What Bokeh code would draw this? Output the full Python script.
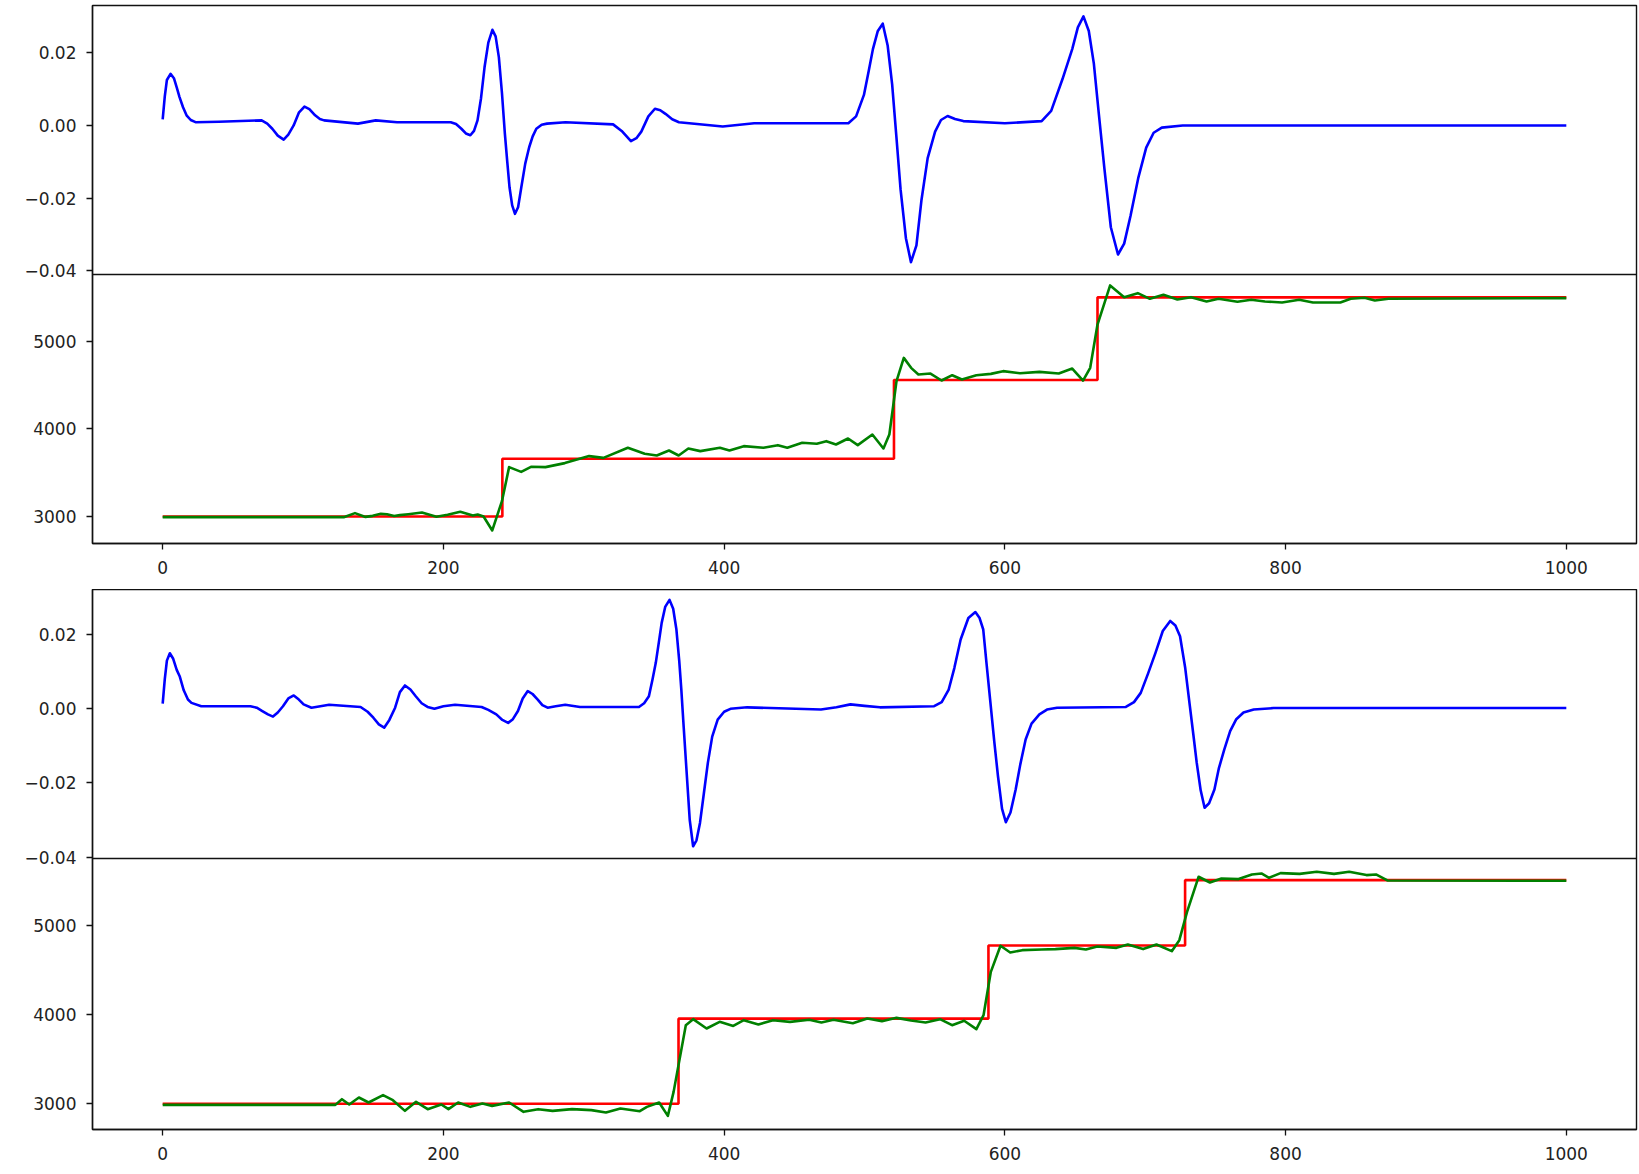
from bokeh.plotting import figure
from bokeh.layouts import column
from bokeh.models import FixedTicker, Range1d, CustomJSTickFormatter, Span
from bokeh.embed import file_html
from bokeh.resources import INLINE

# ---------------- data ----------------
x_ticks = [0, 200, 400, 600, 800, 1000]
deriv_ticks = [-0.04, -0.02, 0.0, 0.02]
level_ticks = [3000, 4000, 5000]

# pair 1 - blue (derivative)
blue1_x = [0, 1.5, 3, 5.6, 8, 10, 12, 14.5, 17, 20, 23.4, 40, 70.5, 74.5, 78.1, 82, 86.2, 89.5,
           93.3, 97, 101, 104.5, 108.6, 112, 115, 139.1, 151.8, 167, 205.2, 209, 212.8, 216,
           219.2, 221.8, 224.3, 226.8, 229.3, 232, 234.9, 237.2, 239.5, 241.7, 243.8, 245.5,
           247.1, 249, 251, 253.2, 255.5, 258.3, 261.1, 263.6, 266.2, 270, 273.8, 287, 320.9,
           327, 333.6, 337.5, 341, 346, 350.7, 354.5, 358.2, 363, 367.8, 399, 421.4, 488.5,
           494, 499.6, 503, 506, 509.5, 513, 516.5, 519.7, 522.7, 525.7, 529.5, 533.1, 537,
           540.6, 545, 550.3, 554.5, 559.2, 564.5, 570.4, 600, 626.2, 633, 641, 648, 652, 656,
           659.8, 663.4, 667, 670.9, 675.5, 680.6, 685, 689.5, 695, 700.7, 706, 711.8, 726.7,
           1000]
blue1_y = [0.0017, 0.008, 0.0125, 0.0142, 0.013, 0.0105, 0.0078, 0.005, 0.0028, 0.0015, 0.0009,
           0.0010, 0.0014, 0.0005, -0.0009, -0.0028, -0.0039, -0.0025, 0.0, 0.0035, 0.0052,
           0.0045, 0.0028, 0.0018, 0.0014, 0.0005, 0.0014, 0.0009, 0.0009, 0.0004, -0.0009,
           -0.0022, -0.0027, -0.0015, 0.0014, 0.0075, 0.016, 0.0228, 0.0263, 0.0245, 0.0188,
           0.009, -0.0023, -0.010, -0.017, -0.022, -0.0243, -0.0225, -0.017, -0.0105, -0.006,
           -0.003, -0.0009, 0.0002, 0.0005, 0.0009, 0.0003, -0.0015, -0.0043, -0.0035, -0.0017,
           0.0025, 0.0046, 0.0042, 0.0032, 0.0017, 0.0009, -0.0003, 0.0006, 0.0006, 0.0025,
           0.0084, 0.015, 0.021, 0.026, 0.028, 0.022, 0.0113, -0.003, -0.0176, -0.031, -0.0376,
           -0.033, -0.0205, -0.009, -0.0017, 0.0015, 0.0026, 0.0018, 0.0012, 0.0006, 0.0012,
           0.004, 0.0127, 0.021, 0.027, 0.030, 0.026, 0.017, 0.003, -0.0118, -0.028, -0.0355,
           -0.0325, -0.0249, -0.0145, -0.0061, -0.002, -0.0006, 0.0, 0.0]

# pair 1 - red (set-point steps)
red1_x = [0, 242, 521, 666, 1000]
red1_y = [3000, 3660, 4560, 5505, 5505]

# pair 1 - green (measured)
green1_x = [0, 129, 137, 144.5, 149.6, 155.4, 159.8, 164.9, 169, 175, 184.7, 195, 203, 212,
            221, 224.4, 228.6, 234.8, 241.7, 246.8, 255.4, 262.4, 272.7, 286.5, 303.8, 314,
            331.4, 343.4, 352, 360.7, 367.6, 374.5, 383, 397, 403.8, 414, 428, 438.3, 445,
            455.6, 466, 472.8, 479.7, 488.3, 495.2, 505.6, 513.5, 517.7, 522.8, 528, 533.2,
            538.4, 547, 554.9, 562.5, 569.4, 579.7, 590, 598.7, 610.8, 624.6, 638.4, 648,
            655.7, 660.8, 666, 675, 685, 694.7, 703.3, 713, 722.9, 732.6, 743.7, 752.2, 765.7,
            775.5, 785.3, 797.5, 809.7, 819.5, 839, 846.4, 856.2, 863.6, 873.3, 1000]
green1_y = [2992, 2992, 3038, 2995, 3007, 3030, 3026, 3005, 3015, 3026, 3046, 2996, 3020, 3053,
            3010, 3023, 3000, 2840, 3175, 3564, 3510, 3568, 3564, 3610, 3690, 3670, 3785,
            3716, 3697, 3754, 3697, 3777, 3747, 3785, 3754, 3804, 3785, 3815, 3785, 3842,
            3831, 3861, 3823, 3891, 3815, 3937, 3777, 3937, 4547, 4813, 4699, 4623, 4634,
            4554, 4615, 4566, 4615, 4630, 4661, 4638, 4653, 4634, 4691, 4554, 4699, 5194,
            5641, 5507, 5553, 5488, 5534, 5481, 5507, 5458, 5488, 5454, 5477, 5458, 5446,
            5477, 5446, 5446, 5488, 5500, 5469, 5488, 5496]

# pair 2 - blue (derivative)
blue2_x = [0, 1.5, 3, 5.1, 7.5, 10, 12.1, 15, 18, 20.5, 27.5, 62.5, 67, 71, 75, 78.6, 82, 85.7,
           89.5, 93.4, 97, 100.4, 106, 118.6, 141, 146, 150.1, 154, 157.8, 161.5, 165.6, 169,
           172.6, 176.5, 180.3, 184.5, 188.7, 193.6, 200, 208.3, 227.2, 232, 237.7, 242, 246.1,
           249.5, 253.1, 256.5, 260.1, 263.5, 267.2, 270.5, 274.2, 280, 286.8, 297.3, 339.3,
           343, 346.4, 349, 351.3, 353.5, 355.5, 358, 361.1, 363.7, 366, 368, 369.5, 371.2,
           373, 375.5, 377.9, 380.3, 382.8, 385.5, 388.4, 391.5, 395.4, 400, 404.5, 416.4, 469,
           480, 490, 500, 511, 549.6, 555, 560, 564, 568.5, 574, 579, 582, 584.6, 587, 589.5,
           592.5, 595.1, 598, 600.7, 604, 607.7, 611, 614.8, 619, 624.6, 630, 637.2, 686.2,
           692, 696.8, 702, 707.3, 712.5, 717.8, 721.5, 724.8, 728.5, 731.8, 734.3, 736.7,
           739.5, 742.3, 745.5, 749.3, 752.5, 756.3, 760.5, 764.7, 770, 777.3, 791.4, 1000]
blue2_y = [0.0014, 0.008, 0.013, 0.015, 0.0135, 0.0105, 0.0088, 0.005, 0.0025, 0.0016, 0.0007,
           0.0007, 0.0003, -0.0006, -0.0015, -0.0021, -0.001, 0.0007, 0.0028, 0.0036, 0.0025,
           0.0012, 0.0003, 0.0011, 0.0005, -0.0008, -0.0024, -0.0042, -0.0051, -0.003, 0.0003,
           0.0045, 0.0063, 0.0052, 0.0034, 0.0015, 0.0005, 0.0, 0.0007, 0.0011, 0.0005,
           -0.0003, -0.0015, -0.003, -0.0038, -0.0028, -0.0006, 0.0028, 0.0048, 0.004, 0.0025,
           0.001, 0.0003, 0.0007, 0.0011, 0.0005, 0.0005, 0.0015, 0.0034, 0.008, 0.0124,
           0.018, 0.0232, 0.0275, 0.0294, 0.027, 0.0214, 0.013, 0.0052, -0.005, -0.0155,
           -0.030, -0.0371, -0.0355, -0.0308, -0.023, -0.0146, -0.0075, -0.0029, -0.0008, 0.0,
           0.0004, -0.0002, 0.0004, 0.0012, 0.0008, 0.0004, 0.0007, 0.0018, 0.0052, 0.011,
           0.0187, 0.0245, 0.0261, 0.0245, 0.0214, 0.012, 0.0025, -0.009, -0.0182, -0.027,
           -0.0306, -0.028, -0.0218, -0.015, -0.0083, -0.004, -0.0015, -0.0002, 0.0003, 0.0005,
           0.0018, 0.0043, 0.0095, 0.0151, 0.021, 0.0237, 0.0225, 0.0196, 0.011, 0.0007,
           -0.007, -0.0146, -0.022, -0.0267, -0.0255, -0.0218, -0.016, -0.011, -0.006, -0.0029,
           -0.001, -0.0002, 0.0002, 0.0002]

# pair 2 - red (set-point steps)
red2_x = [0, 367.5, 588.3, 728.4, 1000]
red2_y = [3000, 3955, 4775, 5508, 5508]

# pair 2 - green (measured)
green2_x = [0, 123, 127.7, 132.9, 139.8, 146.7, 157, 164, 172.6, 180.5, 188.8, 198.5, 203.6,
            210.5, 219.2, 227.8, 234.7, 246.8, 257.1, 267.5, 277.8, 291.6, 305.4, 315.8, 326.1,
            339.9, 345, 353.7, 359.9, 364, 372.7, 377.9, 387.5, 396.8, 406.5, 414, 424.4,
            434.8, 446.9, 460.6, 469.3, 477.9, 491.7, 502, 512.4, 522.8, 533.1, 543.5, 553.8,
            562.4, 571, 579.7, 584.8, 590, 596.9, 603.8, 612.4, 626.2, 636, 649.6, 657.7,
            665.9, 679.5, 687.6, 698.5, 708, 718.9, 724.3, 729.8, 738, 746.1, 754.3, 766.5,
            776, 782.8, 788.2, 796.4, 810, 822.2, 834.5, 845.3, 857.6, 864.4, 872.5, 1000]
green2_y = [2988, 2988, 3052, 2992, 3071, 3015, 3097, 3041, 2921, 3022, 2940, 2992, 2940, 3015,
            2966, 3003, 2977, 3015, 2910, 2940, 2921, 2940, 2929, 2902, 2947, 2917, 2966,
            3015, 2865, 3134, 3882, 3949, 3845, 3919, 3874, 3938, 3889, 3938, 3919, 3942,
            3912, 3942, 3904, 3957, 3927, 3964, 3934, 3912, 3949, 3882, 3931, 3837, 3994,
            4480, 4772, 4697, 4723, 4731, 4735, 4749, 4731, 4764, 4749, 4787, 4735, 4787,
            4712, 4835, 5153, 5546, 5482, 5527, 5520, 5572, 5583, 5535, 5587, 5579, 5602,
            5579, 5602, 5565, 5572, 5505, 5501]

# visible value window of each sub-panel
pair1_top_window = (-0.0410, 0.0330)
pair1_bot_window = (2691, 5766)
pair2_top_window = (-0.0404, 0.0322)
pair2_bot_window = (2712, 5751)

# ---------------- styling / layout ----------------
FONT = "DejaVu Sans"
FSIZE = "17px"
TXT = "#222222"
INK = "#111111"
LINE_W = 2.6
X_START, X_END = -50, 1050


def style_axis(ax, standoff):
    ax.axis_line_color = INK
    ax.axis_line_width = 1.4
    ax.major_tick_line_color = INK
    ax.major_tick_line_width = 1.3
    ax.major_tick_in = 0
    ax.major_tick_out = 6
    ax.minor_tick_line_color = None
    ax.major_label_text_font = FONT
    ax.major_label_text_font_size = FSIZE
    ax.major_label_text_color = TXT
    ax.major_label_standoff = standoff


def pair_figure(top_h, bot_h, border_top, border_bottom, top_win, bot_win,
                bx, by, rx, ry, gx, gy):
    total = top_h + bot_h
    t_lo, t_hi = top_win
    b_lo, b_hi = bot_win
    # the upper sub-panel takes top_h pixels, the lower one bot_h pixels of one frame
    top_range = Range1d(t_hi - (t_hi - t_lo) * total / top_h, t_hi)
    bot_range = Range1d(b_lo, b_lo + (b_hi - b_lo) * total / bot_h)

    p = figure(frame_width=1544, frame_height=total,
               x_range=Range1d(X_START, X_END), y_range=bot_range,
               output_backend="svg", toolbar_location=None,
               min_border_left=92, min_border_right=3,
               min_border_top=border_top, min_border_bottom=border_bottom,
               background_fill_color="white", border_fill_color="white")
    p.extra_y_ranges = {"top": top_range}
    p.outline_line_color = INK
    p.outline_line_width = 1.4
    p.grid.visible = False

    # x axis
    style_axis(p.xaxis[0], 11)
    p.xaxis.ticker = FixedTicker(ticks=x_ticks)

    # one left axis serving both sub-panels: level ticks in the lower part, the
    # derivative ticks placed through the upper sub-panel's range
    to_axis = lambda t: bot_range.start + (t - top_range.start) / (
        top_range.end - top_range.start) * (bot_range.end - bot_range.start)
    ax = p.yaxis[0]
    style_axis(ax, 10)
    ax.ticker = FixedTicker(ticks=level_ticks + [to_axis(t) for t in deriv_ticks])
    ax.formatter = CustomJSTickFormatter(
        args=dict(b_hi=b_hi, b0=bot_range.start, b1=bot_range.end,
                  t0=top_range.start, t1=top_range.end),
        code="""
if (tick <= b_hi) { return tick.toFixed(0); }
const v = t0 + (tick - b0) / (b1 - b0) * (t1 - t0);
return (v < -1e-9 ? '\u2212' : '') + Math.abs(v).toFixed(2);
""")

    # separator between the two sub-panels
    p.add_layout(Span(location=t_lo, dimension="width", y_range_name="top",
                      line_color=INK, line_width=1.4))

    p.line(bx, by, y_range_name="top", line_color="blue", line_width=LINE_W,
           line_join="round")
    p.step(rx, ry, mode="after", line_color="red", line_width=LINE_W)
    p.line(gx, gy, line_color="green", line_width=LINE_W, line_join="round")
    return p


p1 = pair_figure(269, 269, 5, 46, pair1_top_window, pair1_bot_window,
                 blue1_x, blue1_y, red1_x, red1_y, green1_x, green1_y)
p2 = pair_figure(269, 271, 0, 44, pair2_top_window, pair2_bot_window,
                 blue2_x, blue2_y, red2_x, red2_y, green2_x, green2_y)

layout = column(p1, p2, spacing=0)

open("out.html", "w").write(file_html(layout, INLINE))
